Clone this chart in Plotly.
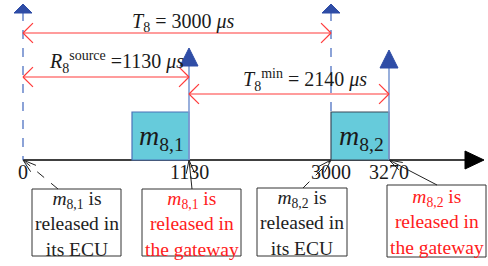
import plotly.graph_objects as go
import math

# ---------------- data ----------------
times = [0, 1130, 3000, 3270]
tick_labels = ["0", "1130", "3000", "3270"]
period_T8 = 3000
R8_source = 1130
T8_min = 2140
messages = ["8,1", "8,2"]
msg_start = [0, 3000]       # release in ECU
msg_gateway = [1130, 3270]  # release in gateway
notes = [
    "<i>m</i><sub>8,1</sub> is<br>released in<br>its ECU",
    "<i>m</i><sub>8,1</sub> is<br>released in<br>the gateway",
    "<i>m</i><sub>8,2</sub> is<br>released in<br>its ECU",
    "<i>m</i><sub>8,2</sub> is<br>released in<br>the gateway",
]
note_colors = ["#222222", "#FF2020", "#222222", "#FF2020"]

# ---------------- schematic layout (pixel space) ----------------
W, H = 488, 266
screen_x = {0: 23, 1130: 189, 3000: 331, 3270: 389}  # schematic (non-linear) time positions
AXIS_Y = 160
BOX_TOP = 112
RED = "#FF3B3B"
BLUE_TRI = "#2F4DA6"
BLUE_LINE = "#7F9BD3"
BLUE_DASH = "#4F72C2"
FONT = "Liberation Serif, Times New Roman, Tinos, serif"

shapes = []
annots = []

def line(x0, y0, x1, y1, color, width=1.2, dash="solid"):
    shapes.append(dict(type="line", xref="x", yref="y", x0=x0, y0=y0, x1=x1, y1=y1,
                       line=dict(color=color, width=width, dash=dash)))

def open_head(xt, yt, xf, yf, size, spread, color, width=1.2):
    ang = math.atan2(yt - yf, xt - xf)
    for s in (-1, 1):
        a = ang + math.pi + s * spread
        line(xt, yt, xt + size * math.cos(a), yt + size * math.sin(a), color, width)

def tri(x, tip, base, half=9, color=BLUE_TRI):
    shapes.append(dict(type="path", xref="x", yref="y",
                       path=f"M {x-half},{base} L {x},{tip} L {x+half},{base} Z",
                       fillcolor=color, line=dict(color=color, width=1)))

# time axis
line(screen_x[0], AXIS_Y, 468, AXIS_Y, "black", 1.5)
shapes.append(dict(type="path", xref="x", yref="y",
                   path=f"M 465,{AXIS_Y-9} L 484,{AXIS_Y} L 465,{AXIS_Y+9} Z",
                   fillcolor="black", line=dict(color="black", width=1)))

# message boxes
box_left = [132, 331]
for i, (m, tg) in enumerate(zip(messages, msg_gateway)):
    xr = screen_x[tg]
    xl = box_left[i]
    shapes.append(dict(type="rect", xref="x", yref="y", x0=xl, x1=xr, y0=BOX_TOP, y1=AXIS_Y,
                       fillcolor="#66CBDB",
                       line=dict(color="#4A72B8" if i == 0 else "#3A4A5A", width=1.2)))
    annots.append(dict(x=(xl + xr) / 2 + 1, y=(BOX_TOP + AXIS_Y) / 2 + 1, xref="x", yref="y",
                       text=f"<i>m</i><sub>{m}</sub>",
                       showarrow=False, font=dict(family=FONT, size=28, color="#1a1a1a")))

# vertical release lines
for t in msg_start:
    line(screen_x[t], 12, screen_x[t], AXIS_Y if t == 0 else BOX_TOP, BLUE_DASH, 1.3, "dash")
    tri(screen_x[t], 4, 13)
for t in msg_gateway:
    line(screen_x[t], 66, screen_x[t], AXIS_Y, BLUE_LINE, 1.6)
tri(screen_x[1130], 48, 66)
tri(screen_x[3270], 50, 68)

# red double arrows
def dbl_arrow(ta, tb, y, label, lx, ly):
    xa, xb = screen_x[ta], screen_x[tb]
    line(xa, y, xb, y, RED, 1.2)
    open_head(xa, y, xb, y, 14, 0.78, RED)
    open_head(xb, y, xa, y, 14, 0.78, RED)
    annots.append(dict(x=lx, y=ly, xref="x", yref="y", text=label, showarrow=False,
                       xanchor="center", yanchor="middle",
                       font=dict(family=FONT, size=20, color="#1a1a1a")))

dbl_arrow(0, period_T8, 33, f"<i>T</i><sub>8</sub> = {period_T8} <i>μs</i>", 183, 22)
dbl_arrow(0, R8_source, 77, f"<i>R</i><sub>8</sub><sup>source</sup> ={R8_source} <i>μs</i>", 116, 62)
dbl_arrow(1130, 3270, 94, f"<i>T</i><sub>8</sub><sup>min</sup> = {T8_min} <i>μs</i>", 305, 80)

# tick labels
for t, lab in zip(times, tick_labels):
    annots.append(dict(x=screen_x[t], y=172, xref="x", yref="y", text=lab,
                       showarrow=False, xanchor="center", yanchor="middle",
                       font=dict(family=FONT, size=20, color="#1a1a1a")))

# note boxes with callouts
note_boxes = [(32, 121, 189, 256), (142, 241, 189, 256), (257, 347, 188, 256), (387, 486, 185, 257)]
callout_from = [(58, 189), (192, 189), (303, 188), (437, 185)]
callout_to = [0, 1130, 3000, 3270]
callout_dash = ["dash", "solid", "dash", "solid"]
for (x0, x1, y0, y1), txt, col, (fx, fy), tt, dsh in zip(note_boxes, notes, note_colors,
                                                         callout_from, callout_to, callout_dash):
    shapes.append(dict(type="rect", xref="x", yref="y", x0=x0, x1=x1, y0=y0, y1=y1,
                       fillcolor="white", line=dict(color="#333333", width=1)))
    annots.append(dict(x=(x0 + x1) / 2, y=(y0 + y1) / 2 + 1, xref="x", yref="y", text=txt,
                       showarrow=False, xanchor="center", yanchor="middle",
                       font=dict(family=FONT, size=19.5, color=col)))
    tx = screen_x[tt]
    line(fx, fy, tx, AXIS_Y, "#222222", 1, dsh)
    open_head(tx, AXIS_Y, fx, fy, 14, 0.3, "#222222", 1)

fig = go.Figure()
fig.add_trace(go.Scatter(x=[0, W], y=[0, H], mode="markers", marker=dict(opacity=0),
                         hoverinfo="skip", showlegend=False))
fig.update_layout(
    width=W, height=H, margin=dict(l=0, r=0, t=0, b=0),
    plot_bgcolor="white", paper_bgcolor="white",
    xaxis=dict(range=[0, W], visible=False, fixedrange=True),
    yaxis=dict(range=[H, 0], visible=False, fixedrange=True),
    shapes=shapes, annotations=annots, showlegend=False,
)
fig.write_html("out.html", config=dict(displayModeBar=False),
               post_script="document.body.style.margin='0';document.body.style.overflow='hidden';")
